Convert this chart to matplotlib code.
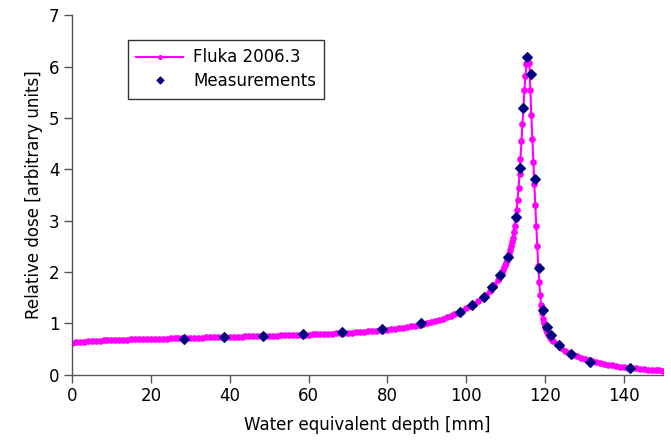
import matplotlib
matplotlib.use("Agg")
import matplotlib.pyplot as plt

# Fluka 2006.3 simulation: depth [mm] and relative dose
fluka_depth = [
    0, 1, 2, 3, 4, 5, 6, 7, 8, 9, 10, 11, 12, 13, 14, 15, 16, 17, 18, 19,
    20, 21, 22, 23, 24, 25, 26, 27, 28, 29, 30, 31, 32, 33, 34, 35, 36, 37, 38, 39,
    40, 41, 42, 43, 44, 45, 46, 47, 48, 49, 50, 51, 52, 53, 54, 55, 56, 57, 58, 59,
    60, 61, 62, 63, 64, 65, 66, 67, 68, 69, 70, 71, 72, 73, 74, 75, 76, 77, 78, 79,
    80, 81, 82, 83, 84, 85, 86, 87, 88, 89, 90, 91, 92, 93, 94, 95, 96, 97, 98, 99,
    100, 101, 102, 103, 104, 105, 106, 107,
    108.0, 108.25, 108.5, 108.75, 109.0, 109.25, 109.5, 109.75,
    110.0, 110.25, 110.5, 110.75, 111.0, 111.25, 111.5, 111.75,
    112.0, 112.25, 112.5, 112.75, 113.0, 113.25, 113.5, 113.75,
    114.0, 114.25, 114.5, 114.75, 115.0, 115.25, 115.5, 115.75,
    116.0, 116.25, 116.5, 116.75, 117.0, 117.25, 117.5, 117.75,
    118.0, 118.25, 118.5, 118.75, 119.0, 119.25, 119.5, 119.75,
    120.0, 120.25, 120.5, 120.75, 121.0, 121.25, 121.5, 121.75,
    122, 123, 124, 125, 126, 127, 128, 129, 130, 131, 132, 133, 134, 135, 136,
    137, 138, 139, 140, 141, 142, 143, 144, 145, 146, 147, 148, 149, 150,
]
fluka_dose = [
    0.610, 0.628, 0.638, 0.646, 0.652, 0.657, 0.661, 0.665, 0.668, 0.671,
    0.674, 0.677, 0.679, 0.682, 0.684, 0.686, 0.689, 0.691, 0.693, 0.695,
    0.697, 0.699, 0.701, 0.703, 0.705, 0.707, 0.709, 0.711, 0.713, 0.715,
    0.717, 0.719, 0.721, 0.723, 0.725, 0.727, 0.729, 0.731, 0.733, 0.735,
    0.737, 0.739, 0.741, 0.743, 0.745, 0.747, 0.749, 0.751, 0.753, 0.755,
    0.757, 0.759, 0.762, 0.764, 0.766, 0.769, 0.771, 0.774, 0.776, 0.779,
    0.782, 0.785, 0.788, 0.791, 0.794, 0.798, 0.801, 0.805, 0.809, 0.813,
    0.817, 0.822, 0.827, 0.832, 0.837, 0.843, 0.849, 0.856, 0.863, 0.870,
    0.878, 0.887, 0.896, 0.906, 0.917, 0.929, 0.942, 0.956, 0.971, 0.988,
    1.006, 1.025, 1.046, 1.068, 1.092, 1.118, 1.146, 1.176, 1.210, 1.250,
    1.290, 1.330, 1.380, 1.430, 1.490, 1.560, 1.640, 1.740,
    1.84, 1.88, 1.92, 1.96, 2.00, 2.04, 2.09, 2.13,
    2.18, 2.23, 2.28, 2.35, 2.42, 2.50, 2.58, 2.67,
    2.78, 2.90, 3.03, 3.20, 3.40, 3.63, 3.90, 4.21,
    4.55, 4.88, 5.22, 5.54, 5.82, 6.05, 6.09, 6.09,
    6.08, 5.55, 5.05, 4.60, 4.15, 3.72, 3.30, 2.90,
    2.50, 2.12, 1.80, 1.55, 1.36, 1.21, 1.09, 1.00,
    0.93, 0.87, 0.83, 0.79, 0.76, 0.73, 0.70, 0.68,
    0.66, 0.59, 0.53, 0.47, 0.42, 0.385, 0.355, 0.33, 0.305, 0.28, 0.26, 0.24,
    0.225, 0.21, 0.195, 0.18, 0.17, 0.16, 0.15, 0.14, 0.13, 0.123, 0.115, 0.108,
    0.10, 0.095, 0.09, 0.085, 0.08,
]

# measured points
meas_depth = [
    28.5, 38.5, 48.5, 58.5, 68.5, 78.5, 88.5, 98.5, 101.5, 104.5, 106.5,
    108.5, 110.5, 112.5, 113.5, 114.5, 115.5, 116.5, 117.5, 118.5, 119.5,
    120.5, 121.5, 123.5, 126.5, 131.5, 141.5,
]
meas_dose = [
    0.70, 0.73, 0.76, 0.79, 0.83, 0.89, 1.01, 1.23, 1.36, 1.52, 1.70,
    1.94, 2.30, 3.08, 4.02, 5.20, 6.19, 5.86, 3.81, 2.07, 1.26,
    0.92, 0.77, 0.57, 0.40, 0.25, 0.14,
]

x_ticks = [0, 20, 40, 60, 80, 100, 120, 140]
y_ticks = [0, 1, 2, 3, 4, 5, 6, 7]

fig = plt.figure(figsize=(6.71, 4.41), dpi=100)
ax = fig.add_axes([0.1073, 0.1503, 0.8814, 0.815])

ax.plot(fluka_depth, fluka_dose, color="#ff00ff", linewidth=1.5, marker="o",
        markersize=4.8, markeredgewidth=0, label="Fluka 2006.3", zorder=2)
ax.plot(meas_depth, meas_dose, linestyle="none", marker="D", markersize=4.8,
        markeredgewidth=0.8, color="#000080", label="Measurements", zorder=3)

ax.set_xlim(0, 150)
ax.set_ylim(0, 7)
ax.set_xticks(x_ticks)
ax.set_yticks(y_ticks)

for side in ["top", "right"]:
    ax.spines[side].set_visible(False)
for side in ["left", "bottom"]:
    ax.spines[side].set_color("#555555")
    ax.spines[side].set_linewidth(1.0)
ax.tick_params(direction="out", length=6, width=1.0, color="#555555",
               labelsize=12, pad=3)

ax.set_xlabel("Water equivalent depth [mm]", fontsize=12, labelpad=8)
ax.set_ylabel("Relative dose [arbitrary units]", fontsize=12, labelpad=4)

leg = ax.legend(loc="upper left", bbox_to_anchor=(0.0947, 0.931),
                borderaxespad=0, fontsize=12, frameon=True, fancybox=False,
                handlelength=2.8, handletextpad=0.6, labelspacing=0.35,
                borderpad=0.5, markerscale=0.75)
leg.get_frame().set_edgecolor("black")
leg.get_frame().set_linewidth(1.0)

plt.savefig("out.png", dpi=100)
plt.close()
